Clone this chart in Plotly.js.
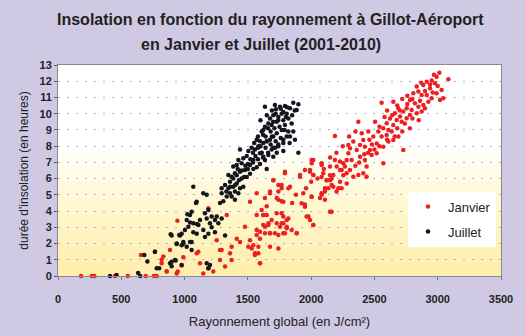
<!DOCTYPE html>
<html>
<head>
<meta charset="utf-8">
<script src="https://cdn.plot.ly/plotly-3.0.1.min.js"></script>
<style>html,body{margin:0;padding:0;background:#d0c9e3;}#chart{width:525px;height:336px;}</style>
</head>
<body>
<div id="chart"></div>
<script>
// ---- Data ----
const titleLine1 = "Insolation en fonction du rayonnement à Gillot-Aéroport";
const titleLine2 = "en Janvier et Juillet (2001-2010)";
const xTitle = "Rayonnement global (en J/cm²)";
const yTitle = "durée d'insolation (en heures)";
const seriesNames = ["Janvier", "Juillet"];
const xTickVals = [0, 500, 1000, 1500, 2000, 2500, 3000, 3500];
const yTickVals = [0,1,2,3,4,5,6,7,8,9,10,11,12,13];

const juilletX = [411,463,633,650,682,706,766,800,890,898,930,937,958,990,1022,1043,1056,1069,1090,1098,
1635,1714,1722,1754,1793,1859,1899,1886,1833,1807,1767,1741,1701,1675,1662,1635,1622,1609,1688,1728,1780,1820,1846,1793,1767,1728,1701,1675,1649,1622,1596,1570,1583,1556,1530,1504,1491,1464,1438,1451,1425,1412,1385,1398,1372,1346,1359,1320,1293,1346,1385,1412,1451,1491,1517,1543,1570,1596,1635,1649,1662,1688,1714,1741,1780,1807,1833,1859,1872,1899,1780,1728,1701,1622,1596,1543,1517,1477,1438,1412,1385,1359,1333,1372,1398,1425,1438,1464,1398,1293,1306,1280,1254,1240,1214,1201,1175,1161,1188,1148,1175,1069,1096,1056,1043,1017,1030,1003,977,990,964,938,898,977,1017,1056,1043,1096,1109,1122,1148,1161,1188,1214,1240,1267,1293,1320,1069,766,780,885,898,924,977,1175,1188,1201,
1600,1650,1690,1720,1760,1780,1810,1740,1700,1660,1620,1580,1550,1600,1640,1680,1710,1750,1790,1820,1760,1720,1680,1640,1610,1560,1520,1480,1450,1500,1540,1580,1620,1660,1700,1740,1780,1830,1850,1870,1800,1690,1650,1580,1540,1470,1430,1400,1360,1330,1420,1500];
const juilletY = [0,0.06,0.18,0,1.3,0.9,1.5,0.47,2.57,0.6,0.95,1.97,2.53,2.1,3.8,3.3,2.1,2.7,4.5,3.2,
10.43,10.54,10.27,10.43,10.48,10.68,10.58,10.23,10.33,10.0,10.0,9.8,9.9,9.7,9.4,9.2,9.0,8.9,9.3,9.5,9.6,9.7,9.4,9.3,9.0,8.8,8.6,8.4,8.3,8.2,8.3,8.4,8.0,7.8,7.9,7.7,7.4,7.25,7.8,6.95,7.15,6.84,6.74,6.33,6.12,6.22,5.8,5.6,5.4,5.4,5.5,5.7,6.0,6.1,6.3,6.6,6.7,6.9,7.15,6.6,7.45,7.8,7.9,8.1,8.2,8.6,8.6,8.9,8.4,7.6,7.7,7.6,7.35,7.35,7.56,7.15,6.84,6.53,6.43,6.2,6.0,5.1,4.9,4.9,4.7,5.1,5.4,5.5,5.2,5.1,4.6,4.5,3.66,3.45,3.66,3.25,3.55,3.86,4.07,5.1,5.0,5.5,4.58,3.96,3.76,3.45,3.04,2.83,2.6,2.0,2.5,2.0,2.5,1.9,1.8,1.6,2.1,2.6,3.14,3.45,2.83,2.4,2.6,3.0,2.7,3.25,3.55,2.5,3.25,1.5,0.47,0.78,0.88,0.99,0.68,0.78,0.47,0.68,
9.6,9.9,10.2,10.0,10.3,10.1,10.4,9.6,9.5,9.1,8.7,8.6,8.2,8.0,8.6,8.9,9.1,9.2,9.0,8.9,8.5,8.3,8.1,7.9,7.6,7.4,7.2,6.8,6.5,6.6,7.0,7.2,7.3,7.6,7.9,8.0,8.4,8.2,9.9,10.2,9.8,8.6,8.3,7.9,7.6,6.1,5.9,5.6,5.5,5.2,6.6,6.9];

const janvierX = [182,266,287,450,551,656,693,758,780,819,859,885,943,946,977,990,1109,
2188,2294,2017,2004,2083,1951,1991,2017,1912,1793,1701,1741,1767,1675,1820,1570,1635,1728,1767,1649,1622,1649,1662,1688,1780,1807,1767,1807,1728,1741,1780,1886,1964,1991,2017,1925,1951,2004,2083,2109,2122,2162,2175,2201,2241,2280,2254,2228,2149,2083,2162,1517,1570,1622,1596,1570,1517,1504,1530,1556,1596,1583,1635,1675,1675,1477,1438,1412,1372,1359,1372,1320,1293,1280,1333,1188,1254,1096,1122,1148,1188,1227,1280,832,819,859,938,
3013,2991,3084,2952,2978,2913,2886,2939,2834,2807,2847,2873,2913,2952,2991,3018,3044,3031,2926,2886,2847,2820,2781,2755,2794,2728,2689,2649,2662,2702,2676,2623,2597,2649,2715,2755,2781,2834,2873,2899,2557,2570,2531,2505,2557,2597,2636,2610,2649,2689,2728,2570,2518,2491,2452,2412,2425,2465,2518,2478,2570,2373,2386,2360,2333,2307,2294,2281,2320,2386,2425,2438,2412,2438,2373,2333,2307,2267,2241,2228,2188,2202,2175,2149,2162,2123,2136,2109,2083,2070,2109,2149,2215,2228,2254,2281,2149,2096,2083,2004,2017,1991,1938,2004,1978,2017,1951,1912,1833,1793,1767,1741,1701,1675,1741,1780,1728,1767,1820,1780,1807,1754,1793,1846,1886,1714,1675,1662,1622,1609,1635,1596,1570,1543,1583,1556,1596,1741,
2600,2680,2720,2760,2800,2860,2900,2960,3000,2970,2940,2870,2760,2700,2640,2580,2540,2610,2680,2740,2800,2850,2780,2720,2660,2600,2540,2480,2450,2500,2420,2380,2350,2460,2400,2350,2300,2250,2200,2150,2100,2050,2000,1960,1880,1850];
const janvierY = [0,0,0,0,0,1.3,0,0,0,1.0,0.3,1.6,3.4,0.27,0.65,1.15,1.5,
8.63,8.07,7.15,6.94,6.94,6.53,6.43,6.22,6.22,6.43,5.9,5.6,5.4,5.2,5.4,5.1,4.8,4.8,4.6,4.3,3.76,3.76,3.25,3.45,3.66,3.45,3.25,2.94,3.25,2.53,2.63,2.63,3.66,3.45,3.14,4.48,4.27,4.89,5.1,5.4,5.9,6.0,5.5,5.2,5.4,6.33,6.94,6.53,6.2,6.1,3.96,4.58,3.76,3.14,2.73,2.53,2.2,1.8,1.7,1.4,0.78,1.8,2.63,2.63,1.8,3.04,2.1,2.3,1.8,1.4,0.99,0.58,1.6,1.6,3.76,4.17,2.2,1.4,0.78,0.16,0.47,0.27,0.99,1.2,0.78,0.27,0.16,
12.53,12.28,12.12,12.04,11.87,11.97,11.77,11.56,11.67,11.26,11.36,11.15,11.15,10.95,11.26,10.85,10.95,11.46,10.74,10.54,10.43,10.64,10.85,10.33,10.23,10.13,10.33,10.74,10.02,9.82,9.61,9.71,9.41,9.3,9.51,9.72,9.92,10.02,10.13,10.33,10.68,9.1,8.9,9.51,8.59,8.69,8.9,8.28,8.38,8.59,7.76,7.97,8.17,8.59,8.9,8.38,7.97,7.76,7.56,7.46,6.94,9.51,8.07,7.76,8.28,7.87,7.56,7.15,7.15,7.35,7.15,6.74,6.33,6.12,6.22,6.12,6.53,6.74,6.53,7.05,7.15,6.74,6.22,5.9,5.6,5.9,5.4,5.2,5.0,4.8,4.7,3.96,5.4,5.8,6.2,5.7,6.74,6.33,6.84,7.15,6.22,6.53,5.1,4.89,3.66,3.14,4.4,6.12,5.5,6.33,5.6,5.2,5.9,5.1,4.7,4.58,3.86,3.86,3.55,3.25,3.04,3.04,2.63,2.83,2.63,2.63,2.63,3.14,3.76,4.07,3.04,2.3,2.83,1.9,1.4,1.3,0.78,1.7,
10.2,10.5,10.9,11.1,10.9,10.8,11.4,11.3,11.7,12.4,11.8,11.9,10.6,10.2,9.9,9.8,9.2,9.0,9.1,9.4,9.7,9.6,9.1,8.9,8.6,8.4,8.0,8.1,7.6,7.8,7.5,7.0,6.8,8.4,8.8,8.9,8.6,8.0,7.6,7.3,6.6,6.0,5.8,5.4,5.0,4.5];

// ---- Styling ----
const FONT = "Liberation Sans, Arial, sans-serif";
const gradShapes = [];
const N = 16;
for (let i = 0; i < N; i++) {
  gradShapes.push({type:'rect', xref:'paper', yref:'y', x0:0, x1:1, y0:0, y1:7.8*(i+1)/N,
    fillcolor:'rgba(250,242,120,0.055)', line:{width:0}, layer:'below'});
}
const bold = v => '<b>' + v + '</b>';

const traces = [
  {x: janvierX, y: janvierY, name: seriesNames[0], type:'scatter', mode:'markers', legendgroup:'a',
   marker:{color:'#ec2020', size:4.5}, cliponaxis:false},
  {x: juilletX, y: juilletY, name: seriesNames[1], type:'scatter', mode:'markers', legendgroup:'b',
   marker:{color:'#151520', size:4.5}, cliponaxis:false}
];

const layout = {
  width:525, height:336,
  margin:{l:58, r:24, t:65, b:60},
  paper_bgcolor:'#d0c9e3', plot_bgcolor:'#ffffff',
  font:{family:FONT, color:'#222'},
  showlegend:true,
  legend:{x:0.79, y:0.40, xanchor:'left', yanchor:'top', bgcolor:'#ffffff',
    font:{family:FONT, size:13, color:'#222'}, tracegroupgap:5, itemwidth:30},
  xaxis:{range:[0,3500], tickvals:xTickVals, ticktext:xTickVals.map(bold), ticks:'outside', ticklen:3, tickcolor:'#777',
    showline:true, linecolor:'#8a8a8a', mirror:true, showgrid:false, zeroline:false,
    tickfont:{family:FONT, size:11, color:'#222'}, ticklabelstandoff:10,
    title:{text:xTitle, font:{family:FONT, size:13, color:'#222'}, standoff:12}},
  yaxis:{range:[0,13], tickvals:yTickVals, ticktext:yTickVals.map(bold), ticks:'outside', ticklen:3, tickcolor:'#555',
    showline:true, linecolor:'#8a8a8a', mirror:true, showgrid:true, gridcolor:'#b4abd6',
    griddash:'2px,7px', gridwidth:1, zeroline:false,
    tickfont:{family:FONT, size:11, color:'#222'},
    title:{text:yTitle, font:{family:FONT, size:12, color:'#222'}, standoff:8}},
  shapes: gradShapes,
  annotations:[
    {text:'<b>' + titleLine1 + '</b>', xref:'paper', yref:'paper', x:0.4786, y:1.218, xanchor:'center', yanchor:'middle',
     showarrow:false, font:{family:FONT, size:16, color:'#222'}},
    {text:'<b>' + titleLine2 + '</b>', xref:'paper', yref:'paper', x:0.458, y:1.0995, xanchor:'center', yanchor:'middle',
     showarrow:false, font:{family:FONT, size:16, color:'#222'}}
  ]
};

Plotly.newPlot('chart', traces, layout, {displayModeBar:false, staticPlot:true});
</script>
</body>
</html>
